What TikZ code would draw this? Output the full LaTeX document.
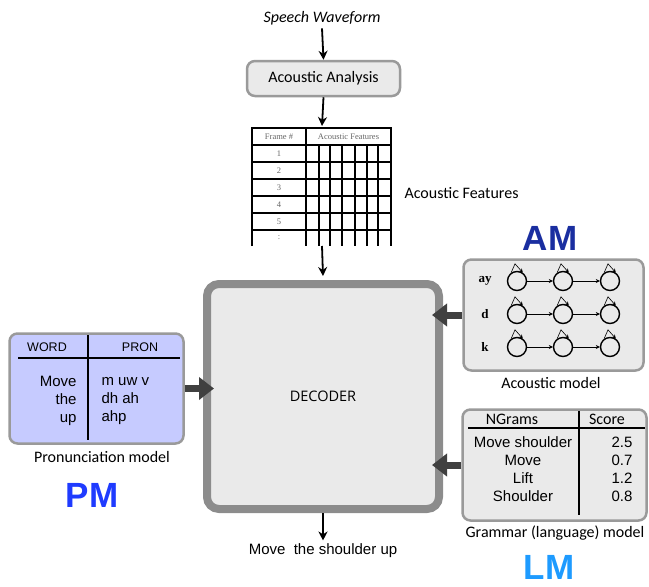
\documentclass[tikz,border=0pt]{standalone}
\usepackage{fontspec}
\setmainfont{Carlito}
\newfontfamily\arialfont{Liberation Sans}
\newfontfamily\timesfont{Liberation Serif}
\newfontfamily\decfont{Open Sans}
\usetikzlibrary{positioning, arrows.meta}
\definecolor{boxfill}{HTML}{EAEAEA}
\definecolor{boxline}{HTML}{9A9A9A}
\definecolor{decline}{HTML}{8C8C8C}
\definecolor{pmfill}{HTML}{C6CBFF}
\definecolor{feedgray}{HTML}{404040}
\definecolor{amblue}{HTML}{1A2EA0}
\definecolor{pmblue}{HTML}{1F3BFF}
\definecolor{lmblue}{HTML}{1E9BFF}
\tikzset{model/.style={draw=boxline, line width=2.5pt, fill=boxfill, rounded corners=8pt, inner sep=0pt},
         flow/.style={-{Stealth[length=9pt,width=9pt]}, line width=1.8pt},
         feed/.style={-{Triangle[length=15pt,width=22pt]}, line width=7pt, draw=feedgray},
         state/.style={circle, draw, line width=1.4pt, minimum size=19pt, inner sep=0pt},
         hop/.style={-{Stealth[length=4pt,width=4pt]}, line width=0.6pt},
         caption/.style={font=\fontsize{16}{18}\selectfont},
         tag/.style={font=\arialfont\bfseries\fontsize{35}{35}\selectfont, anchor=base, inner sep=0.5pt},
         cell/.style={font=\timesfont\fontsize{8.5}{9}\selectfont, text=black!60},
         entry/.style={font=\arialfont\fontsize{15}{18}\selectfont},
        }

\begin{document}
\begin{tikzpicture}[x=1pt,y=-1pt]
        \useasboundingbox (0,0) rectangle (649,587);
        % input side
        \node[caption, font=\itshape\fontsize{16}{18}\selectfont](wave)at(322,18){Speech Waveform};
        \node[model, minimum width=153pt, minimum height=35pt, caption](analysis)at(323.5,78.5){Acoustic Analysis};
        \coordinate(tabletop)at(322,126);
        \coordinate(tablebot)at(322,246);
        \draw[flow](wave.south)--(analysis.north);
        \draw[flow](analysis.south)--(tabletop);

        % feature table
        \draw[line width=1.1pt](252,246)--(252,128)--(391,128)--(391,246);
        \draw[line width=1.1pt](306,128)--(306,246);
        \foreach \y in {145,162,179,196,213,230}
            \draw[line width=1.1pt](252,\y)--(391,\y);
        \foreach \x in {319,330,342,355,367,378}
            \draw[line width=1.4pt](\x,145)--(\x,246);
        \node[cell](framehead)at(279,136.5){Frame \#};
        \node[cell](feathead)at(348.5,136.5){Acoustic Features};
        \foreach \n/\y in {1/153.5,2/170.5,3/187.5,4/204.5,5/221.5,:/238}
            \node[cell](row\n)at(279,\y){\n};
        \node[caption, anchor=west](featlabel)at(401,193){Acoustic Features};

        % decoder
        \node[draw=decline, line width=8pt, fill=boxfill, rounded corners=12pt,
              minimum width=232pt, minimum height=225pt, inner sep=0pt](decoder)at(323,396.5)
              {\decfont\fontsize{14.5}{16}\selectfont DECODER};
        \draw[flow](tablebot)--([yshift=4pt]decoder.north);
        \node[entry](output)at(323,551){Move\ \ the shoulder up};
        \draw[flow](decoder.south)--(output.north);

        % acoustic model
        \node[model, minimum width=180pt, minimum height=111pt](am)at(553.5,315){};
        \node[tag, text=amblue](amtag)at(550,250){AM};
        \node[caption](amlabel)at(551,383){Acoustic model};
        \foreach \r/\ph/\y in {1/ay/281,2/d/314,3/k/347}{
            \node[font=\timesfont\bfseries\fontsize{13}{14}\selectfont](ph\r)at(485,\y){\ph};
            \node[state](s\r1)at(517,\y){};
            \node[state](s\r2)at(563,\y){};
            \node[state](s\r3)at(610,\y){};
            \draw[hop](s\r1)--(s\r2);
            \draw[hop](s\r2)--(s\r3);
            \foreach \c in {1,2,3}
                \draw[hop](s\r\c.125)--([xshift=-2pt,yshift=7pt]s\r\c.north)--(s\r\c.55);
        }

        % pronunciation model
        \node[model, fill=pmfill, minimum width=174pt, minimum height=110pt](pm)at(96.5,388.5){};
        \node[entry, font=\arialfont\fontsize{12.5}{14}\selectfont](wordhead)at(47,347){WORD};
        \node[entry, font=\arialfont\fontsize{12.5}{14}\selectfont](pronhead)at(140,347){PRON};
        \draw[line width=1.2pt](18,358)--(180,358);
        \draw[line width=1.2pt](88,335)--(88,440);
        \node[entry, anchor=east, align=right](words)at(80,401){Move\\the\\up};
        \node[entry, anchor=west, align=left](prons)at(98,401){m uw v\\dh ah\\ahp};
        \node[caption](pmlabel)at(102,457){Pronunciation model};
        \node[tag, text=pmblue](pmtag)at(92,507){PM};

        % language model
        \node[model, minimum width=184pt, minimum height=111pt](lm)at(554.5,465){};
        \node[caption](ngramhead)at(512,419){NGrams};
        \node[caption](scorehead)at(607,419){Score};
        \draw[line width=1.2pt](468,428)--(645,428);
        \draw[line width=1.2pt](579,411)--(579,515);
        \node[entry, align=center](ngrams)at(523,469){Move shoulder\\Move\\Lift\\Shoulder};
        \node[entry, align=right](scores)at(622,469){2.5\\0.7\\1.2\\0.8};
        \node[caption](lmlabel)at(555,533){Grammar (language) model};
        \node[tag, text=lmblue](lmtag)at(549,579){LM};

        % model feeds
        \draw[feed](am.west)--([xshift=-11pt]decoder.east|-am.west);
        \draw[feed](lm.west)--([xshift=-11pt]decoder.east|-lm.west);
        \draw[feed](pm.east)--([xshift=11pt]decoder.west|-pm.east);
    \end{tikzpicture}
\end{document}
